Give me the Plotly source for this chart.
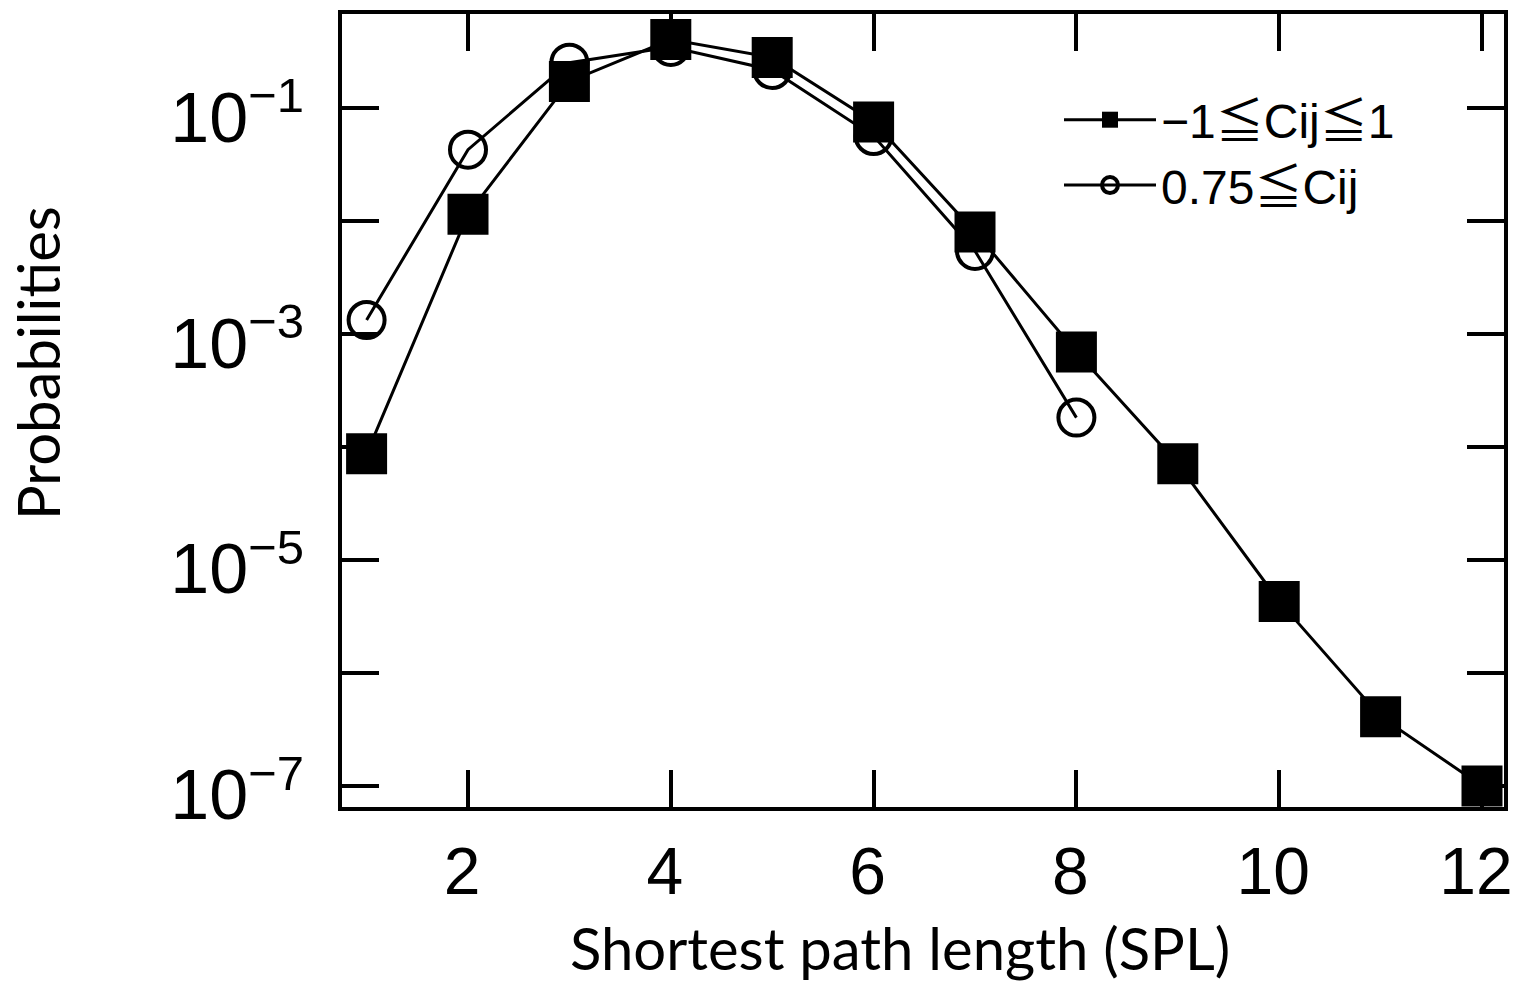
import plotly.graph_objects as go

# ---- data ----
spl = [1, 2, 3, 4, 5, 6, 7, 8, 9, 10, 11, 12]
prob_all = [8.7e-5, 1.15e-2, 0.172, 0.404, 0.28, 0.0752, 8.0e-3, 6.93e-4,
            7.1e-5, 4.3e-6, 4.1e-7, 1.0e-7]
spl_high = [1, 2, 3, 4, 5, 6, 7, 8]
prob_high = [1.33e-3, 0.0428, 0.252, 0.347, 0.217, 0.0565, 5.43e-3, 1.82e-4]

name_all = "−1≦Cij≦1"
name_high = "0.75≦Cij"

x_ticks = [2, 4, 6, 8, 10, 12]
y_ticks = [1e-1, 1e-3, 1e-5, 1e-7]
y_ticktext = ["10<sup>−1</sup>", "10<sup>−3</sup>", "10<sup>−5</sup>", "10<sup>−7</sup>"]
y_minor_ticks = [1e-2, 1e-4, 1e-6]

x_title = "Shortest path length (SPL)"
y_title = "Probabilities"

W, H = 1513, 985
L, R, T, B = 342, 9, 14, 178
PW, PH = W - L - R, H - T - B

fig = go.Figure()
fig.add_trace(go.Scatter(
    x=spl_high, y=prob_high, name=name_high, mode="lines+markers",
    line=dict(color="black", width=3),
    marker=dict(symbol="circle-open", size=36, color="black", line=dict(width=4, color="black")),
    legendrank=2,
))
fig.add_trace(go.Scatter(
    x=spl, y=prob_all, name=name_all, mode="lines+markers",
    line=dict(color="black", width=3),
    marker=dict(symbol="square", size=41, color="black", line=dict(width=0)),
    legendrank=1,
))

ytick_font = dict(family="Liberation Sans, Arial, sans-serif", size=70, color="black")
xtick_font = dict(family="Liberation Sans, Arial, sans-serif", size=66, color="black")
title_font = dict(family="Lato, 'Open Sans', sans-serif", size=58, color="black")

fig.update_layout(
    width=W, height=H,
    margin=dict(l=L, r=R, t=T, b=B, pad=0, autoexpand=False),
    paper_bgcolor="white", plot_bgcolor="white",
    showlegend=True,
    legend=dict(
        x=(1059 - L) / PW, y=(807 - 82) / PH,
        xanchor="left", yanchor="top",
        bgcolor="rgba(0,0,0,0)", borderwidth=0,
        itemwidth=92,
        font=dict(family="Liberation Sans, 'Noto Sans CJK JP', sans-serif", size=48, color="black"),
        tracegroupgap=0,
    ),
    xaxis=dict(
        range=[0.7574, 12.217], tickvals=x_ticks,
        ticks="inside", ticklen=37, tickwidth=4, tickcolor="black",
        showline=True, linewidth=4, linecolor="black", mirror="ticks",
        showgrid=False, zeroline=False, automargin=False,
        tickfont=xtick_font, ticklabelstandoff=4, ticklabelshift=-6,
        ticklabeloverflow="allow",
    ),
    yaxis=dict(
        type="log", range=[-7.186, -0.168], tickvals=y_ticks, ticktext=y_ticktext,
        ticks="inside", ticklen=37, tickwidth=4, tickcolor="black",
        showline=True, linewidth=4, linecolor="black", mirror="ticks",
        showgrid=False, zeroline=False, automargin=False,
        minor=dict(tickvals=y_minor_ticks, ticks="inside", ticklen=37, tickwidth=4,
                   tickcolor="black", showgrid=False),
        tickfont=ytick_font, ticklabelstandoff=20, ticklabelshift=9,
    ),
    annotations=[
        dict(text=x_title, xref="paper", yref="paper",
             x=(900 - L) / PW, y=(807 - 948) / PH,
             xanchor="center", yanchor="middle", showarrow=False, font=title_font),
        dict(text=y_title, xref="paper", yref="paper", textangle=-90,
             x=(37 - L) / PW, y=(807 - 363) / PH,
             xanchor="center", yanchor="middle", showarrow=False, font=title_font),
    ],
)

fig.write_html("out.html")
